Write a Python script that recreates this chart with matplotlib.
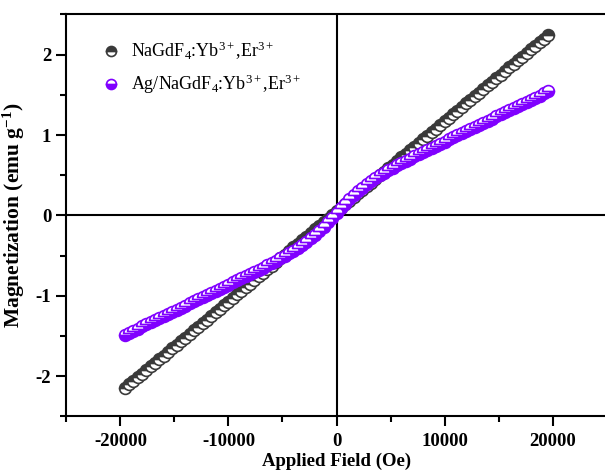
import matplotlib
matplotlib.use("Agg")
import matplotlib.pyplot as plt
from matplotlib.ticker import MultipleLocator

plt.rcParams['font.family'] = ['Liberation Serif', 'DejaVu Serif']
plt.rcParams['mathtext.fontset'] = 'custom'
plt.rcParams['mathtext.rm'] = 'Liberation Serif'
plt.rcParams['mathtext.bf'] = 'Liberation Serif:bold'
plt.rcParams['mathtext.it'] = 'Liberation Serif:italic'

field = [-19600, -19200, -18800, -18400, -18000, -17600, -17200, -16800, -16400, -16000,
         -15600, -15200, -14800, -14400, -14000, -13600, -13200, -12800, -12400, -12000,
         -11600, -11200, -10800, -10400, -10000, -9600, -9200, -8800, -8400, -8000,
         -7600, -7200, -6800, -6400, -6000, -5600, -5200, -4800, -4400, -4000,
         -3600, -3200, -2800, -2400, -2000, -1600, -1200, -800, -400, 0,
         400, 800, 1200, 1600, 2000, 2400, 2800, 3200, 3600, 4000,
         4400, 4800, 5200, 5600, 6000, 6400, 6800, 7200, 7600, 8000,
         8400, 8800, 9200, 9600, 10000, 10400, 10800, 11200, 11600, 12000,
         12400, 12800, 13200, 13600, 14000, 14400, 14800, 15200, 15600, 16000,
         16400, 16800, 17200, 17600, 18000, 18400, 18800, 19200, 19600]

m_nagdf4 = [-2.145, -2.100, -2.056, -2.011, -1.966, -1.921, -1.876, -1.831, -1.787, -1.742,
            -1.697, -1.652, -1.607, -1.563, -1.518, -1.473, -1.428, -1.384, -1.339, -1.294,
            -1.249, -1.204, -1.160, -1.115, -1.070, -1.025, -0.980, -0.936, -0.891, -0.846,
            -0.801, -0.756, -0.712, -0.667, -0.622, -0.577, -0.532, -0.488, -0.443, -0.398,
            -0.353, -0.308, -0.264, -0.219, -0.174, -0.129, -0.084, -0.040, 0.005, 0.050,
            0.095, 0.140, 0.184, 0.229, 0.274, 0.319, 0.364, 0.408, 0.453, 0.498,
            0.543, 0.588, 0.632, 0.677, 0.722, 0.767, 0.812, 0.856, 0.901, 0.946,
            0.991, 1.036, 1.080, 1.125, 1.170, 1.215, 1.260, 1.304, 1.349, 1.394,
            1.439, 1.484, 1.528, 1.573, 1.618, 1.663, 1.707, 1.752, 1.797, 1.842,
            1.887, 1.931, 1.976, 2.021, 2.066, 2.111, 2.156, 2.200, 2.245]

m_ag = [-1.484, -1.458, -1.432, -1.406, -1.380, -1.354, -1.328, -1.302, -1.276, -1.250,
        -1.224, -1.198, -1.172, -1.146, -1.120, -1.094, -1.068, -1.042, -1.016, -0.990,
        -0.964, -0.938, -0.912, -0.886, -0.859, -0.833, -0.807, -0.781, -0.754, -0.728,
        -0.701, -0.674, -0.647, -0.619, -0.591, -0.563, -0.534, -0.503, -0.472, -0.439,
        -0.404, -0.367, -0.328, -0.285, -0.240, -0.191, -0.139, -0.085, -0.028, 0.030,
        0.088, 0.145, 0.199, 0.251, 0.300, 0.345, 0.388, 0.427, 0.464, 0.499,
        0.532, 0.563, 0.594, 0.623, 0.651, 0.679, 0.707, 0.734, 0.761, 0.788,
        0.814, 0.841, 0.867, 0.893, 0.919, 0.946, 0.972, 0.998, 1.024, 1.050,
        1.076, 1.102, 1.128, 1.154, 1.180, 1.206, 1.232, 1.258, 1.284, 1.310,
        1.336, 1.362, 1.388, 1.414, 1.440, 1.466, 1.492, 1.518, 1.544]

label_nagdf4 = r'NaGdF$_4$:Yb$^{3+}$,Er$^{3+}$'
label_ag = r'Ag/NaGdF$_4$:Yb$^{3+}$,Er$^{3+}$'
xticks = [-20000, -10000, 0, 10000, 20000]
yticks = [-2, -1, 0, 1, 2]

fig = plt.figure(figsize=(6.05, 4.72), dpi=100)
ax = fig.add_axes([0.1099, 0.1176, 0.8926, 0.8517])

ax.axhline(0, color='black', lw=1.5, zorder=1)
ax.axvline(0, color='black', lw=1.5, zorder=1)

ax.plot(field, m_nagdf4, linestyle='none', marker='o', markersize=8.5,
        markeredgewidth=1.2, markeredgecolor='#3a3a3a', markerfacecolor='#3a3a3a',
        markerfacecoloralt='white', fillstyle='top', label=label_nagdf4, zorder=3)
ax.plot(field, m_ag, linestyle='none', marker='o', markersize=8.5,
        markeredgewidth=1.2, markeredgecolor='#8000ff', markerfacecolor='#8000ff',
        markerfacecoloralt='white', fillstyle='bottom', label=label_ag, zorder=4)

ax.set_xlim(-25000, 25000)
ax.set_ylim(-2.5, 2.5)
ax.set_xticks(xticks)
ax.set_yticks(yticks)
ax.set_xticklabels([str(v) for v in xticks])
ax.set_yticklabels([str(v) for v in yticks])
ax.xaxis.set_minor_locator(MultipleLocator(5000))
ax.yaxis.set_minor_locator(MultipleLocator(0.5))
ax.tick_params(which='major', direction='out', length=7, width=1.5, labelsize=13.5, pad=4)
ax.tick_params(axis='x', which='major', pad=5)
ax.tick_params(which='minor', direction='out', length=4, width=1.5)
for lab in ax.get_xticklabels() + ax.get_yticklabels():
    lab.set_fontweight('bold')
for s in ax.spines.values():
    s.set_linewidth(1.5)

ax.set_xlabel('Applied Field (Oe)', fontsize=13.5, fontweight='bold', labelpad=1.5)
ax.set_ylabel(r'Magnetization (emu g$^{\mathbf{-1}}$)', fontsize=15.5, fontweight='bold', labelpad=6)

leg = ax.legend(loc='upper left', bbox_to_anchor=(0.033, 0.977), frameon=False, fontsize=13,
                handletextpad=0.5, labelspacing=0.6, handlelength=1.2, markerscale=0.85)

fig.savefig('out.png', dpi=100)
